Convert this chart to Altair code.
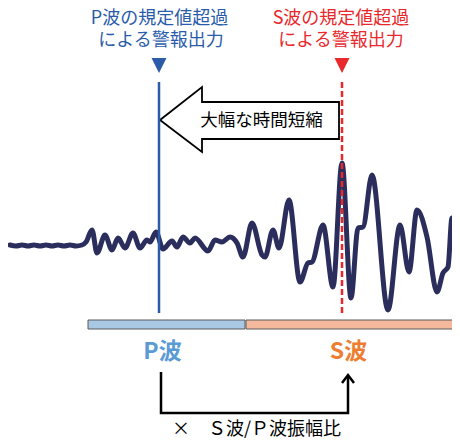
import altair as alt
import pandas as pd

# ---- data (reference-pixel coordinate system: x to the right, y downward) ----
wave_t = [10, 16, 22, 28, 34, 40, 46, 52, 58, 64, 70, 76, 82, 86, 92, 97, 105, 112, 118,
          125, 133, 140, 147, 150, 156, 163, 172, 177, 183, 190, 195, 208, 215, 222, 230,
          237, 243, 252, 262, 265, 273, 279, 289, 300, 308, 312, 323, 333, 342, 351, 358,
          363, 372, 388, 400, 409, 417, 427, 437, 443, 448, 452, 457, 460]
wave_y = [245, 246, 245, 246, 245, 246, 245, 246, 245, 246, 245, 246, 245, 242, 230, 253, 235, 250, 238,
          248, 233, 248, 240, 242, 232, 249, 241, 247, 237, 243, 238, 251, 240, 242, 237,
          243, 257, 223, 255, 257, 230, 248, 200, 282, 263, 262, 225, 287, 163, 298, 228,
          227, 175, 310, 225, 272, 210, 237, 292, 273, 267, 218, 218, 205]

p_x, s_x = 159, 342
line_top, line_bottom = 82, 313

bar_names = ["P", "S"]
bar_x1 = [88, 246]
bar_x2 = [245, 470]
bar_fill = ["#a9c8e4", "#f4b99d"]

tri_x = [p_x, s_x]
tri_color = ["#2a5caa", "#e8282b"]

arrow_px = [160, 202, 202, 339, 339, 202, 202, 160]
arrow_py = [120, 87, 102, 102, 139, 139, 152, 120]

bracket_px = [161, 161, 348, 348]
bracket_py = [372, 413, 413, 376]
head_px = [342, 348, 354]
head_py = [383, 375, 383]

top_text = ["P波の規定値超過", "による警報出力", "S波の規定値超過", "による警報出力"]
top_tx = [159.5, 161, 341, 341]
top_ty = [18.5, 41, 18.5, 41]
top_col = ["#2a5caa", "#2a5caa", "#e8282b", "#e8282b"]

wave_lbl = ["P波", "S波"]
wave_lbl_x = [162.5, 348.5]
wave_lbl_col = ["#5b9bd5", "#ed7d31"]

FONT = "Noto Sans CJK JP"
xs = alt.Scale(domain=[8, 452], nice=False, zero=False)
ys = alt.Scale(domain=[438, 8], nice=False, zero=False)


def X(f):
    return alt.X(f, type="quantitative", scale=xs, axis=None)


def Y(f):
    return alt.Y(f, type="quantitative", scale=ys, axis=None)


wave_df = pd.DataFrame({"t": wave_t, "y": wave_y})
bars_df = pd.DataFrame({"name": bar_names, "x1": bar_x1, "x2": bar_x2, "fill": bar_fill,
                        "y1": [320] * 2, "y2": [329] * 2})
tri_df = pd.DataFrame({"x": tri_x, "y": [65.5] * 2, "c": tri_color})
arrow_df = pd.DataFrame({"x": arrow_px, "y": arrow_py, "o": list(range(len(arrow_px)))})
br_df = pd.DataFrame({"x": bracket_px + head_px, "y": bracket_py + head_py,
                      "o": list(range(4)) + list(range(3)),
                      "g": ["b"] * 4 + ["h"] * 3})
top_df = pd.DataFrame({"t": top_text, "x": top_tx, "y": top_ty, "c": top_col})
lbl_df = pd.DataFrame({"t": wave_lbl, "x": wave_lbl_x, "y": [352] * 2, "c": wave_lbl_col})
mid_df = pd.DataFrame({"t": ["大幅な時間短縮"], "x": [261.5], "y": [121]})
bot_df = pd.DataFrame({"t": ["×　Ｓ波/Ｐ波振幅比"], "x": [256.5], "y": [429.5]})

bars = alt.Chart(bars_df).mark_rect(stroke="#5a5a5a", strokeWidth=1).encode(
    x=X("x1"), x2="x2", y=Y("y1"), y2="y2", fill=alt.Fill("fill:N", scale=None))

wave = alt.Chart(wave_df).mark_line(color="#2b2e5c", strokeWidth=5, interpolate="monotone",
                                    strokeCap="round", strokeJoin="round", clip=True).encode(
    x=X("t"), y=Y("y"))

rule_df = pd.DataFrame({"x": [p_x, s_x], "y1": [line_top] * 2, "y2": [line_bottom] * 2,
                        "k": ["P", "S"]})
p_rule = alt.Chart(rule_df[rule_df.k == "P"]).mark_rule(color="#2a5caa", strokeWidth=2.5).encode(
    x=X("x"), y=Y("y1"), y2="y2")
s_rule = alt.Chart(rule_df[rule_df.k == "S"]).mark_rule(color="#e8282b", strokeWidth=2.5,
                                                         strokeDash=[6, 3]).encode(
    x=X("x"), y=Y("y1"), y2="y2")

tris = alt.Chart(tri_df).mark_point(shape="M-1,-1L1,-1L0,1Z", filled=True, size=225, opacity=1).encode(
    x=X("x"), y=Y("y"), color=alt.Color("c:N", scale=None))

arrow = alt.Chart(arrow_df).mark_line(color="black", strokeWidth=1.8, strokeJoin="miter").encode(
    x=X("x"), y=Y("y"), order="o:Q")

bracket = alt.Chart(br_df).mark_line(color="black", strokeWidth=2.5, strokeJoin="miter").encode(
    x=X("x"), y=Y("y"), order="o:Q", detail="g:N")

top_txt = alt.Chart(top_df).mark_text(font=FONT, fontSize=18, baseline="middle").encode(
    x=X("x"), y=Y("y"), text="t:N", color=alt.Color("c:N", scale=None))

lbl_txt = alt.Chart(lbl_df).mark_text(font=FONT, fontSize=23, fontWeight="bold", baseline="middle").encode(
    x=X("x"), y=Y("y"), text="t:N", color=alt.Color("c:N", scale=None))

mid_txt = alt.Chart(mid_df).mark_text(font=FONT, fontSize=17.5, baseline="middle", color="black").encode(
    x=X("x"), y=Y("y"), text="t:N")

bot_txt = alt.Chart(bot_df).mark_text(font=FONT, fontSize=18, baseline="middle", color="black").encode(
    x=X("x"), y=Y("y"), text="t:N")

chart = alt.layer(bars, wave, arrow, p_rule, s_rule, tris, bracket, top_txt, lbl_txt, mid_txt,
                  bot_txt).properties(
    width=444, height=430, padding=0, autosize=alt.AutoSizeParams(type="none")
).configure_view(stroke=None)

chart.save("out.html", embed_options={"renderer": "svg", "actions": False})
